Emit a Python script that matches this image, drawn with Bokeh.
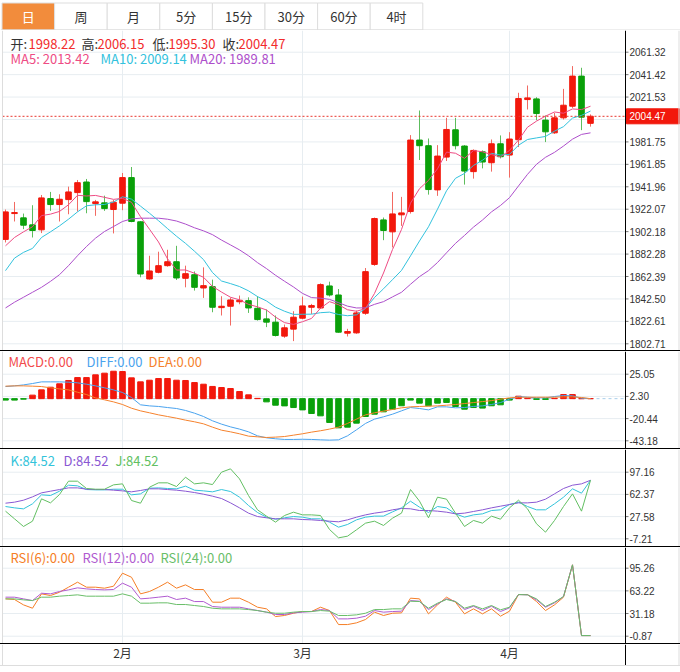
from bokeh.plotting import figure
from bokeh.layouts import column
from bokeh.models import Range1d, FixedTicker, Label, Span, Div, ColumnDataSource
from bokeh.core.properties import value
from bokeh.embed import file_html
from bokeh.resources import INLINE

# ---------------- data ----------------
tabs = ["日", "周", "月", "5分", "15分", "30分", "60分", "4时"]
month_ticks = [14, 34, 57]
month_labels = ["2月", "3月", "4月"]

open_ = [1895.3, 1918.2, 1914.4, 1908.2, 1903.8, 1931.5, 1926.2, 1930.6, 1936.8, 1946.2,
         1927.1, 1927.7, 1921.8, 1927.4, 1950.1, 1910.9, 1860.2, 1866.1, 1872.0, 1875.5,
         1860.8, 1864.0, 1852.2, 1853.4, 1834.8, 1836.0, 1840.0, 1841.0, 1834.2, 1824.8,
         1821.9, 1809.5, 1815.7, 1825.4, 1835.1, 1834.5, 1854.0, 1846.0, 1812.1, 1812.4,
         1829.8, 1873.1, 1912.6, 1902.0, 1917.1, 1920.0, 1983.4, 1978.4, 1939.2, 1968.3,
         1992.5, 1978.1, 1955.4, 1973.0, 1963.3, 1980.1, 1970.1, 1983.7, 2019.3, 2019.9,
         2001.1, 1989.8, 2003.1, 2013.4, 2040.1, 1998.22]
high_ = [1921.8, 1928.5, 1918.2, 1925.6, 1934.7, 1937.4, 1935.3, 1942.1, 1948.0, 1948.9,
         1930.3, 1934.1, 1930.3, 1954.2, 1959.5, 1911.5, 1880.8, 1884.4, 1886.1, 1889.6,
         1872.0, 1866.9, 1870.5, 1859.6, 1844.9, 1843.7, 1845.5, 1843.9, 1844.9, 1833.1,
         1827.8, 1819.8, 1831.6, 1844.6, 1838.1, 1856.3, 1857.8, 1851.3, 1816.0, 1832.2,
         1869.9, 1914.7, 1914.7, 1937.4, 1933.0, 1987.8, 2009.6, 1984.8, 1978.9, 2003.1,
         2003.1, 1978.9, 1975.1, 1974.2, 1983.9, 1987.5, 1990.4, 2025.3, 2031.8, 2021.4,
         2005.2, 2007.5, 2028.8, 2049.0, 2047.5, 2006.15]
low_ = [1892.6, 1911.2, 1904.4, 1897.0, 1900.9, 1920.6, 1911.2, 1917.6, 1920.0, 1918.5,
        1916.2, 1920.6, 1900.6, 1921.2, 1910.5, 1861.7, 1859.6, 1865.2, 1871.1, 1859.3,
        1852.8, 1849.9, 1843.4, 1830.7, 1827.8, 1818.9, 1837.8, 1830.1, 1823.3, 1817.5,
        1809.2, 1808.0, 1805.1, 1824.5, 1829.2, 1833.6, 1844.6, 1812.5, 1809.2, 1811.6,
        1828.4, 1871.9, 1894.6, 1888.2, 1907.3, 1918.2, 1965.7, 1935.0, 1933.9, 1964.8,
        1975.1, 1943.9, 1949.2, 1958.3, 1955.4, 1967.1, 1950.1, 1977.2, 2010.5, 2001.0,
        1981.6, 1988.9, 2001.6, 2011.9, 1992.2, 1995.30]
close_ = [1919.7, 1919.1, 1907.9, 1903.2, 1932.1, 1926.2, 1930.9, 1937.4, 1945.6, 1928.8,
          1928.6, 1922.6, 1928.3, 1950.1, 1911.2, 1864.6, 1867.3, 1872.0, 1875.5, 1861.1,
          1864.9, 1852.8, 1854.3, 1835.1, 1836.0, 1841.6, 1841.3, 1834.5, 1824.2, 1821.9,
          1810.1, 1816.9, 1826.3, 1836.3, 1836.6, 1855.2, 1846.0, 1813.0, 1813.6, 1830.1,
          1866.7, 1913.8, 1903.2, 1917.9, 1918.8, 1983.4, 1978.4, 1939.5, 1969.2, 1992.8,
          1978.4, 1955.9, 1974.2, 1963.9, 1980.1, 1968.6, 1984.3, 2020.2, 2020.8, 2006.9,
          1990.7, 2003.1, 2014.3, 2040.1, 2003.7, 2004.47]

ma5 = [1889.6, 1897.0, 1902.0, 1906.5, 1916.4, 1917.7, 1920.1, 1926.0, 1934.4, 1933.8,
       1934.3, 1932.6, 1930.8, 1931.7, 1928.2, 1915.4, 1904.3, 1893.0, 1878.1, 1868.1,
       1868.2, 1865.3, 1861.7, 1853.6, 1848.6, 1844.0, 1841.7, 1837.7, 1835.5, 1832.7,
       1826.4, 1821.5, 1819.9, 1822.3, 1825.2, 1834.3, 1840.1, 1837.4, 1832.9, 1831.6,
       1833.9, 1847.4, 1865.5, 1886.3, 1904.1, 1927.4, 1940.3, 1947.6, 1957.9, 1972.7,
       1971.7, 1967.2, 1974.1, 1973.0, 1970.5, 1968.5, 1974.2, 1983.4, 1994.8, 2000.2,
       2004.6, 2008.3, 2007.2, 2011.0, 2010.4, 2013.42]
ma10 = [1867.6, 1878.7, 1883.8, 1887.3, 1897.0, 1902.0, 1907.3, 1913.2, 1919.7, 1925.1,
        1926.0, 1926.3, 1928.4, 1933.1, 1931.0, 1924.8, 1918.5, 1911.9, 1904.9, 1898.1,
        1891.8, 1884.8, 1877.4, 1865.9, 1858.4, 1856.1, 1853.5, 1849.7, 1844.6, 1840.7,
        1835.2, 1831.6, 1828.8, 1828.9, 1829.0, 1830.3, 1830.8, 1828.7, 1827.6, 1828.4,
        1834.1, 1843.8, 1851.5, 1859.6, 1867.8, 1880.7, 1893.9, 1906.5, 1922.1, 1938.4,
        1949.5, 1953.8, 1960.9, 1965.5, 1971.6, 1970.1, 1970.7, 1978.8, 1983.9, 1985.3,
        1986.6, 1991.3, 1995.3, 2002.9, 2005.3, 2009.14]
ma20 = [1834.5, 1839.6, 1844.0, 1848.4, 1852.8, 1858.1, 1864.0, 1872.0, 1880.8, 1889.0,
        1896.4, 1902.3, 1906.7, 1911.2, 1913.5, 1914.1, 1914.1, 1914.1, 1913.2, 1911.6,
        1908.9, 1905.6, 1902.9, 1899.5, 1894.7, 1890.4, 1886.0, 1880.8, 1874.7, 1869.4,
        1863.5, 1858.2, 1853.1, 1847.4, 1843.7, 1843.2, 1842.1, 1839.2, 1836.1, 1834.5,
        1834.6, 1837.7, 1840.1, 1844.3, 1848.4, 1855.5, 1862.3, 1867.6, 1874.8, 1883.4,
        1891.8, 1898.8, 1906.2, 1912.5, 1919.7, 1925.4, 1932.3, 1942.7, 1953.0, 1961.9,
        1968.1, 1972.5, 1978.1, 1984.2, 1988.4, 1989.81]

macd = [-1.5, -1.5, -0.5, 3.6, 9.0, 11.7, 15.2, 18.6, 21.6, 21.6,
        24.4, 26.1, 28.1, 27.8, 21.3, 17.2, 18.9, 20.6, 20.6, 18.9,
        18.6, 16.5, 14.8, 12.5, 11.4, 10.4, 7.3, 3.9, 0.3, -3.3,
        -6.7, -7.4, -9.1, -11.5, -15.2, -17.6, -24.4, -29.9, -29.2, -25.1,
        -18.3, -15.9, -13.5, -10.8, -7.3, -1.5, -4.6, -7.3, -4.6, -3.9,
        -8.0, -10.8, -9.1, -9.7, -7.3, -6.3, -1.5, 2.5, 0.5, -0.8,
        -0.8, 0.3, 4.2, 4.2, 0.0, 0.0]
diff = [12.4, 13.1, 14.1, 15.5, 17.2, 17.2, 17.2, 16.9, 16.2, 14.8,
        13.1, 11.1, 9.0, 6.3, 1.2, -6.3, -7.4, -8.0, -9.1, -10.1,
        -12.1, -14.9, -18.3, -22.7, -26.1, -28.9, -31.2, -34.0, -38.1, -40.1,
        -41.1, -41.8, -41.8, -41.6, -41.8, -42.2, -42.5, -42.2, -38.1, -31.9,
        -25.4, -21.0, -18.6, -15.9, -12.5, -9.1, -10.1, -11.5, -8.4, -8.4,
        -9.4, -9.1, -8.0, -7.4, -6.0, -4.0, -0.5, 2.2, 1.5, 0.8,
        0.8, 2.2, 3.2, 2.9, 0.5, 0.0]
dea = [12.8, 13.1, 13.1, 12.8, 12.4, 11.1, 10.0, 9.0, 6.6, 4.2,
       0.8, -1.2, -3.3, -6.0, -9.8, -12.5, -14.5, -16.6, -18.3, -20.0,
       -22.0, -23.7, -25.8, -29.2, -32.3, -34.0, -36.0, -38.4, -39.1, -39.8,
       -39.4, -38.8, -37.4, -36.0, -34.3, -32.9, -31.2, -29.2, -25.4, -21.0,
       -16.6, -14.5, -12.8, -11.1, -9.4, -8.4, -8.0, -7.7, -7.4, -6.7,
       -6.0, -5.0, -4.0, -3.0, -2.0, -0.5, 0.8, 1.5, 1.5, 1.5,
       1.5, 1.5, 1.8, 1.8, 1.2, 0.0]

k_ = [43.4, 41.3, 39.7, 47.6, 61.7, 60.6, 67.4, 76.8, 75.8, 70.0,
      69.5, 69.5, 70.5, 70.5, 61.7, 63.2, 72.1, 72.6, 71.6, 71.1,
      75.3, 69.0, 67.9, 66.4, 70.0, 66.9, 58.0, 45.0, 34.0, 26.7,
      23.5, 25.7, 27.7, 26.7, 24.1, 24.1, 18.9, 11.0, 15.2, 22.5,
      26.7, 28.3, 28.3, 35.0, 41.3, 51.7, 42.4, 34.0, 43.4, 41.3,
      31.9, 26.7, 30.3, 31.9, 37.1, 38.2, 46.5, 50.2, 43.4, 38.2,
      38.2, 47.6, 58.0, 71.1, 64.3, 84.52]
d_ = [48.6, 50.2, 53.3, 58.5, 64.8, 67.4, 70.0, 72.6, 72.6, 70.5,
      70.0, 70.0, 69.0, 67.9, 66.4, 68.5, 71.1, 71.1, 70.0, 69.0,
      67.4, 65.3, 62.7, 59.6, 55.9, 49.1, 41.3, 33.0, 27.7, 25.7,
      24.1, 24.1, 24.1, 23.0, 22.5, 21.5, 20.4, 19.4, 22.5, 26.7,
      30.3, 33.0, 35.0, 38.2, 40.3, 39.8, 37.1, 37.1, 36.1, 34.5,
      31.9, 33.0, 35.6, 38.2, 41.3, 43.9, 46.5, 49.1, 49.1, 50.2,
      54.9, 63.2, 71.6, 76.8, 78.9, 84.52]
j_ = [36.1, 24.1, 12.1, 20.4, 55.4, 49.1, 62.2, 83.1, 83.1, 71.6,
      70.5, 70.5, 77.3, 78.9, 52.8, 48.6, 73.7, 80.5, 80.5, 74.7,
      89.3, 78.9, 80.5, 77.8, 97.2, 102.4, 86.7, 60.6, 38.2, 28.3,
      18.9, 29.3, 34.5, 30.3, 30.3, 29.3, 7.4, -5.7, -3.1, 6.9,
      17.3, 20.4, 13.7, 25.1, 33.0, 70.0, 51.8, 25.7, 58.0, 54.9,
      33.0, 12.1, 21.5, 17.3, 28.3, 23.5, 41.3, 53.3, 39.8, 16.3,
      3.2, 21.5, 43.4, 63.2, 36.1, 84.52]

rsi6 = [51.9, 51.0, 43.4, 38.7, 59.0, 56.6, 61.3, 68.4, 75.5, 68.4,
        68.4, 67.0, 69.8, 88.2, 82.5, 59.0, 62.3, 68.4, 75.5, 67.0,
        71.7, 65.1, 65.1, 47.2, 47.2, 52.9, 52.9, 47.2, 40.1, 37.8,
        26.9, 28.4, 31.6, 34.0, 34.0, 40.1, 35.4, 15.6, 15.6, 18.0,
        22.7, 33.1, 28.4, 31.6, 32.1, 52.9, 51.9, 30.7, 43.4, 54.3,
        47.2, 30.7, 37.8, 30.7, 37.8, 27.4, 34.5, 58.0, 58.0, 48.1,
        35.4, 43.4, 54.3, 100.0, 0.0, 0.0]
rsi12 = [54.3, 54.3, 51.9, 49.5, 59.9, 59.0, 62.3, 64.6, 67.5, 66.0,
         65.1, 64.6, 65.1, 74.1, 68.4, 51.9, 52.9, 54.3, 55.7, 51.0,
         52.9, 48.1, 48.1, 41.1, 40.1, 40.1, 40.1, 37.8, 35.4, 33.1,
         29.8, 29.8, 32.1, 33.1, 34.0, 36.8, 35.4, 23.6, 23.6, 24.6,
         27.4, 35.4, 33.1, 34.0, 34.5, 49.5, 48.6, 36.8, 44.8, 51.9,
         48.1, 36.8, 41.5, 35.4, 41.5, 34.0, 39.2, 58.0, 57.6, 50.5,
         40.1, 46.3, 55.2, 100.0, 0.0, 0.0]
rsi24 = [51.9, 51.9, 50.5, 49.5, 54.3, 54.3, 55.7, 56.6, 57.6, 55.7,
         55.7, 55.7, 55.7, 59.0, 55.7, 45.8, 45.8, 46.3, 46.3, 43.9,
         43.9, 42.5, 41.1, 38.7, 37.8, 37.8, 37.8, 36.8, 35.4, 33.1,
         31.6, 31.6, 33.1, 34.0, 34.0, 35.4, 34.5, 28.4, 28.4, 29.3,
         31.6, 36.8, 36.8, 37.8, 37.8, 48.6, 48.1, 38.7, 45.8, 51.0,
         48.1, 38.7, 42.5, 37.8, 42.5, 36.4, 40.1, 58.0, 57.6, 51.9,
         41.1, 47.2, 55.2, 100.0, 0.0, 0.0]

price_ticks = [2061.32, 2041.42, 2021.53, 2001.64, 1981.75, 1961.85, 1941.96, 1922.07,
               1902.18, 1882.28, 1862.39, 1842.50, 1822.61, 1802.71]
macd_ticks = [25.05, 2.30, -20.44, -43.18]
kdj_ticks = [97.16, 62.37, 27.58, -7.21]
rsi_ticks = [95.26, 63.22, 31.18, -0.87]

# ---------------- style / layout constants ----------------
CJK = "Noto Sans CJK SC"
NUMF = "Liberation Sans"
UP, DOWN = "#F2180C", "#0AA00A"
UPW, DOWNW = "#F26A62", "#5DBD5D"
GRID = "#E7EDF1"
W = 680
STEP = 9.0          # pixels per candle
FIRST = 5.0         # pixel centre of first candle


def px2x(px):
    return 1 + (px - FIRST) / STEP


XL, XR = px2x(0), px2x(W)         # frame covers the full width
AX = px2x(625)                     # right axis line
X0 = px2x(2)                       # left plot edge

n = len(close_)
xs = list(range(1, n + 1))
xr = Range1d(XL, XR)


def borders(p):
    p.add_layout(Span(location=AX, dimension="height", line_color="#000000", line_width=1))
    p.add_layout(Span(location=X0, dimension="height", line_color="#DDDDDD", line_width=1))
    p.add_layout(Span(location=px2x(678.5), dimension="height", line_color="#DDDDDD",
                      line_width=1))


def panel(height, yr, ticks, skip=None):
    p = figure(width=W, height=height, x_range=xr, y_range=Range1d(yr[0], yr[1]),
               toolbar_location=None, output_backend="svg", title=None,
               y_axis_location=None, x_axis_location=None, min_border=0)
    p.outline_line_color = None
    p.background_fill_color = "white"
    p.border_fill_color = "white"
    p.ygrid.visible = False
    p.xgrid.ticker = FixedTicker(ticks=month_ticks)
    p.xgrid.grid_line_color = GRID
    # horizontal grid lines, limited to the plotting area
    p.segment(x0=X0, x1=AX, y0=ticks, y1=ticks, line_color=GRID, line_width=1)
    # right-hand value axis
    p.segment(x0=AX, x1=px2x(628), y0=ticks, y1=ticks, line_color="#777777", line_width=1)
    shown = [t for t in ticks if skip is None or abs(t - skip[0]) * skip[1] > 9]
    p.text(x=px2x(629), y=shown, text=[f"{t:.2f}" for t in shown], text_color="#333333",
           text_font=value(NUMF), text_font_size="10px", text_align="left",
           text_baseline="middle")
    borders(p)
    return p


def add_labels(p, y, items):
    for xx, txt, col in items:
        p.add_layout(Label(x=xx, y=y, x_units="screen", y_units="screen", text=txt,
                           text_color=col, text_font=CJK, text_font_size="13px",
                           text_baseline="middle", text_align="left"))


# ---------------- tab bar ----------------
tp = figure(width=W, height=30, x_range=Range1d(0, W), y_range=Range1d(30, 0),
            toolbar_location=None, output_backend="svg", title=None,
            x_axis_location=None, y_axis_location=None, min_border=0)
tp.grid.visible = False
tp.outline_line_color = None
tab_w = 52.6
lefts = [1.5 + tab_w * i for i in range(len(tabs))]
tsrc = ColumnDataSource(dict(
    left=lefts, right=[l + tab_w for l in lefts],
    cx=[l + tab_w / 2 for l in lefts], label=tabs,
    fill=["#F28C3C" if i == 0 else "#FFFFFF" for i in range(len(tabs))],
    tcol=["#FFFFFF" if i == 0 else "#333333" for i in range(len(tabs))]))
tp.add_layout(Span(location=29.5, dimension="width", line_color="#DDDDDD", line_width=1))
tp.quad(left="left", right="right", top=2.5, bottom=29.5, fill_color="fill",
        line_color="#DDDDDD", line_width=1, source=tsrc)
tp.text(x="cx", y=16, text="label", text_color="tcol", text_font=value(CJK),
        text_font_size="13px", text_align="center", text_baseline="middle", source=tsrc)

# ---------------- main candles ----------------
PRICE_RANGE = (1796.77, 2080.56)
MAIN_H = 320
ppu = MAIN_H / (PRICE_RANGE[1] - PRICE_RANGE[0])
pm = panel(MAIN_H, PRICE_RANGE, price_ticks, skip=(close_[-1], ppu))
csrc = ColumnDataSource(dict(
    x=xs, high=high_, low=low_,
    top=[max(o, c) for o, c in zip(open_, close_)],
    bottom=[min(o, c) for o, c in zip(open_, close_)],
    col=[UP if c >= o else DOWN for o, c in zip(open_, close_)],
    wcol=[UPW if c >= o else DOWNW for o, c in zip(open_, close_)]))
pm.segment(x0="x", y0="high", x1="x", y1="low", line_color="wcol", line_width=1, source=csrc)
pm.vbar(x="x", width=0.62, top="top", bottom="bottom", fill_color="col",
        line_color="col", line_width=1, source=csrc)
pm.line(xs, ma20, line_color="#AD4FCB", line_width=1)
pm.line(xs, ma10, line_color="#33C2DD", line_width=1)
pm.line(xs, ma5, line_color="#EE4C84", line_width=1)
pm.segment(x0=X0, x1=AX, y0=close_[-1], y1=close_[-1], line_color="#E8362E",
           line_dash="2 2", line_width=1)
half = 7.5 / ppu
pm.quad(left=px2x(626), right=px2x(679), top=close_[-1] + half, bottom=close_[-1] - half,
        fill_color="#F2180C", line_color="#F2180C")
pm.text(x=px2x(629), y=close_[-1], text=[f"{close_[-1]:.2f}"], text_color="#FFFFFF",
        text_font=value(NUMF), text_font_size="10px", text_align="left",
        text_baseline="middle")
RED = "#F22B2B"
add_labels(pm, 307, [
    (10, "开:", "#333333"), (28, f"{open_[-1]:.2f}", RED),
    (81, "高:", "#333333"), (97, f"{high_[-1]:.2f}", RED),
    (152, "低:", "#333333"), (168, f"{low_[-1]:.2f}", RED),
    (222, "收:", "#333333"), (238, f"{close_[-1]:.2f}", RED)])
add_labels(pm, 292, [
    (10, f"MA5: {ma5[-1]:.2f}", "#EE4C84"),
    (100, f"MA10: {ma10[-1]:.2f}", "#33C2DD"),
    (189, f"MA20: {ma20[-1]:.2f}", "#AD4FCB")])

# ---------------- MACD ----------------
pd_ = panel(97, (-51.07, 48.31), macd_ticks)
msrc = ColumnDataSource(dict(x=xs, v=macd, col=[UP if v >= 0 else DOWN for v in macd]))
pd_.segment(x0=X0, x1=AX, y0=0, y1=0, line_color="#A8CFEA", line_dash="3 3", line_width=1)
pd_.vbar(x="x", width=0.62, top="v", bottom=0, fill_color="col", line_color="col",
         line_width=1, source=msrc)
pd_.line(xs, diff, line_color="#4AA3EE", line_width=1)
pd_.line(xs, dea, line_color="#F5822D", line_width=1)
add_labels(pd_, 87, [(8, "MACD:0.00", "#F24B4B"), (86, "DIFF:0.00", "#4AA3EE"),
                     (148, "DEA:0.00", "#F5822D")])

# ---------------- KDJ ----------------
pk = panel(97, (-19.28, 132.74), kdj_ticks)
pk.line(xs, k_, line_color="#33C3DA", line_width=1)
pk.line(xs, d_, line_color="#8A58D3", line_width=1)
pk.line(xs, j_, line_color="#62BF62", line_width=1)
add_labels(pk, 86, [(10, f"K:{k_[-1]:.2f}", "#33C3DA"), (63, f"D:{d_[-1]:.2f}", "#8A58D3"),
                    (115, f"J:{j_[-1]:.2f}", "#62BF62")])

# ---------------- RSI ----------------
pr = panel(96, (-11.19, 124.52), rsi_ticks)
pr.line(xs, rsi6, line_color="#F57E26", line_width=1)
pr.line(xs, rsi12, line_color="#B05BD0", line_width=1)
pr.line(xs, rsi24, line_color="#69BE69", line_width=1)
add_labels(pr, 86, [(10, "RSI(6):0.00", "#F57E26"), (82, "RSI(12):0.00", "#B05BD0"),
                    (160, "RSI(24):0.00", "#69BE69")])

# ---------------- month labels strip ----------------
px_ = figure(width=W, height=21, x_range=xr, y_range=Range1d(21, 0),
             toolbar_location=None, output_backend="svg", title=None,
             x_axis_location=None, y_axis_location=None, min_border=0)
px_.grid.visible = False
px_.outline_line_color = None
px_.text(x=month_ticks, y=8, text=month_labels, text_color="#333333",
         text_font=value(CJK), text_font_size="12px", text_align="center",
         text_baseline="middle")
borders(px_)


def hline(color):
    return Div(text="", width=W, height=1, margin=0,
               styles={"background-color": color, "overflow": "hidden"})


layout = column([tp, pm, hline("#000000"), pd_, hline("#000000"), pk, hline("#000000"), pr,
                 hline("#000000"), px_, hline("#DDDDDD")], spacing=0)

open("out.html", "w").write(file_html(layout, INLINE))
